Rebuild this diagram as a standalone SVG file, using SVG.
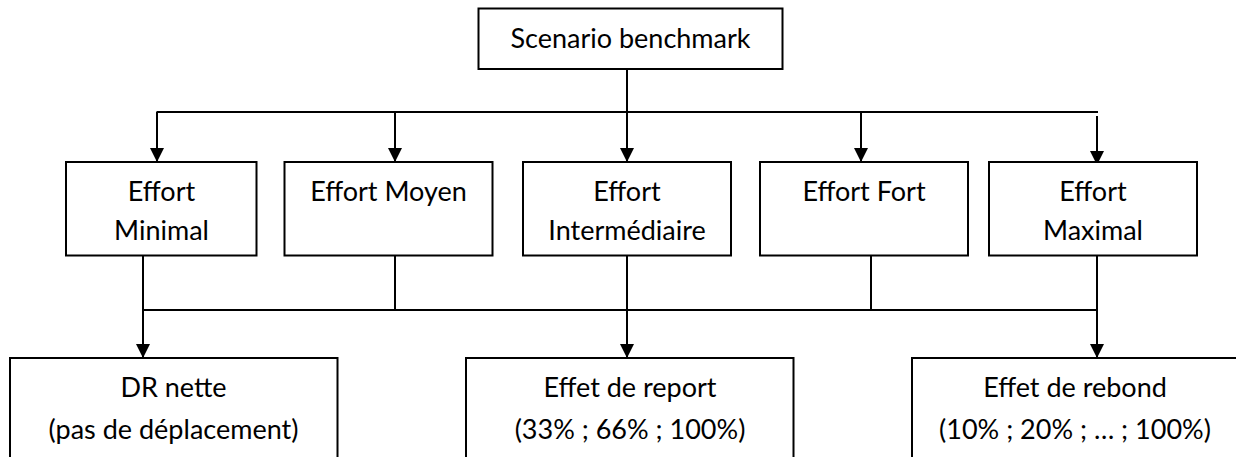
<svg xmlns="http://www.w3.org/2000/svg" width="1236" height="457" viewBox="0 0 1236 457">
<style>
.box{fill:#fff;stroke:#000;stroke-width:2}
.t{font-family:Lato,"Open Sans",sans-serif;font-size:27px;fill:#000;text-anchor:middle}
.c{stroke:#000;stroke-width:2;fill:none}
.a{marker-end:url(#arr)}
</style>
<defs>
<marker id="arr" markerUnits="userSpaceOnUse" markerWidth="14" markerHeight="14" refX="14" refY="7" orient="auto" viewBox="0 0 14 14">
<path d="M0,0 L14,7 L0,14 z" fill="#000"/>
</marker>
</defs>
<rect width="1236" height="457" fill="#fff"/>
<g id="connectors">
<line class="c" x1="627" y1="69" x2="627" y2="112"/>
<line class="c" x1="156.5" y1="112" x2="1098" y2="112"/>
<line class="c a" x1="157" y1="112" x2="157" y2="162"/>
<line class="c a" x1="395" y1="112" x2="395" y2="162"/>
<line class="c a" x1="627" y1="112" x2="627" y2="162"/>
<line class="c a" x1="861" y1="112" x2="861" y2="162"/>
<line class="c a" x1="1097" y1="116" x2="1097" y2="165"/>
<line class="c a" x1="143" y1="255" x2="143" y2="358"/>
<line class="c" x1="395" y1="256" x2="395" y2="310"/>
<line class="c a" x1="627" y1="256" x2="627" y2="358"/>
<line class="c" x1="871" y1="256" x2="871" y2="310"/>
<line class="c a" x1="1097" y1="254" x2="1097" y2="358"/>
<line class="c" x1="142" y1="310" x2="1098" y2="310"/>
</g>
<g id="n-scenario">
<rect class="box" x="478.5" y="8.5" width="304" height="60.5"/>
<text class="t" x="630.5" y="48">Scenario benchmark</text>
</g>
<g id="n-minimal">
<rect class="box" x="66" y="162" width="190.5" height="93.5"/>
<text class="t" x="161.5" y="201">Effort</text>
<text class="t" x="161.5" y="240">Minimal</text>
</g>
<g id="n-moyen">
<rect class="box" x="284.5" y="162" width="208" height="93.5"/>
<text class="t" x="388.5" y="201">Effort Moyen</text>
</g>
<g id="n-intermediaire">
<rect class="box" x="523" y="162" width="208" height="93.5"/>
<text class="t" x="627" y="201">Effort</text>
<text class="t" x="627" y="240">Intermédiaire</text>
</g>
<g id="n-fort">
<rect class="box" x="760" y="162" width="208" height="93.5"/>
<text class="t" x="864" y="201">Effort Fort</text>
</g>
<g id="n-maximal">
<rect class="box" x="989" y="162" width="208" height="93.5"/>
<text class="t" x="1093" y="201">Effort</text>
<text class="t" x="1093" y="240">Maximal</text>
</g>
<g id="n-drnette">
<rect class="box" x="10" y="358" width="327.5" height="120"/>
<text class="t" x="173.5" y="397">DR nette</text>
<text class="t" x="173.5" y="439">(pas de déplacement)</text>
</g>
<g id="n-report">
<rect class="box" x="466" y="358" width="327.5" height="120"/>
<text class="t" x="630" y="397">Effet de report</text>
<text class="t" x="630" y="439">(33% ; 66% ; 100%)</text>
</g>
<g id="n-rebond">
<rect class="box" x="912" y="358" width="327.5" height="120"/>
<text class="t" x="1075" y="397">Effet de rebond</text>
<text class="t" x="1075" y="439">(10% ; 20% ; … ; 100%)</text>
</g>
</svg>
